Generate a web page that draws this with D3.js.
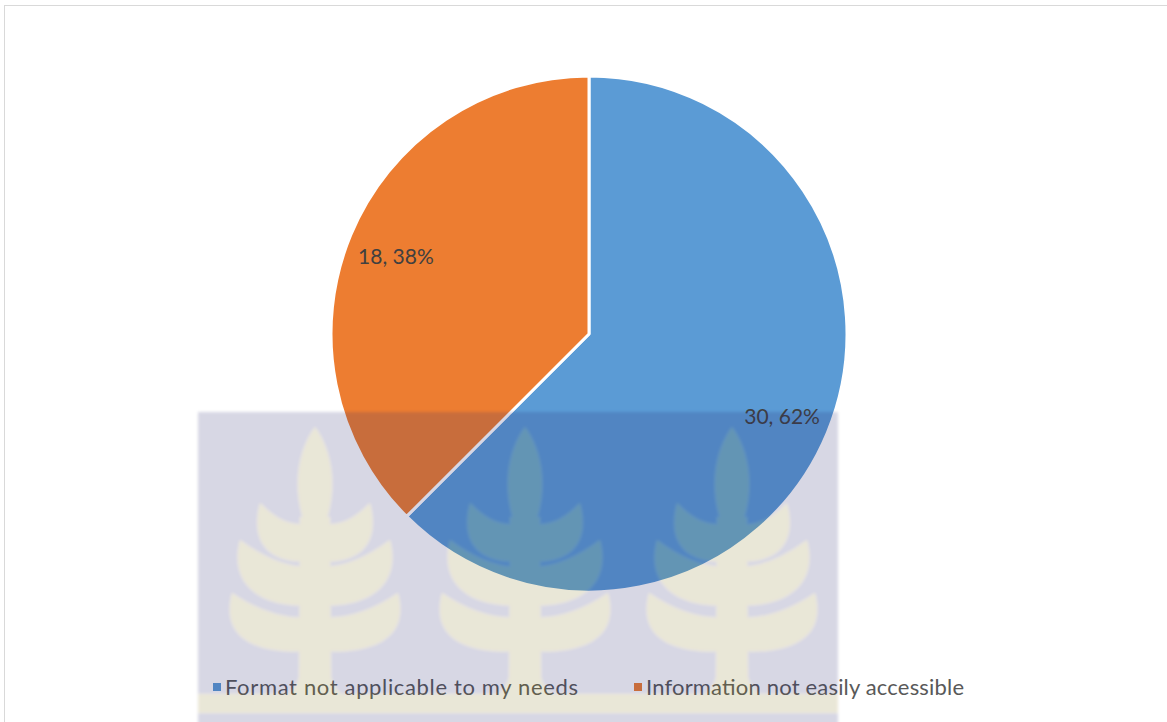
<!DOCTYPE html>
<html>
<head>
<meta charset="utf-8">
<script src="https://cdn.jsdelivr.net/npm/d3@7"></script>
<style>
  html, body { margin: 0; padding: 0; background: #fff; }
  svg { display: block; }
  text { font-family: Lato, "Noto Sans", sans-serif; }
</style>
</head>
<body>
<svg id="chart" width="1167" height="722"></svg>
<script>
// Responses: why the material was not used
const categories = ["Format not applicable to my needs", "Information not easily accessible"];
const counts = [30, 18];
const percentLabels = ["62%", "38%"];
const sliceColors = ["#5b9bd5", "#ed7d31"];

// Background emblem: three stylised trees over a tinted panel
const treeCenters = [315, 525, 732];

const W = 1167, H = 722;
const svg = d3.select("#chart");

// chart area border
svg.append("rect")
  .attr("x", 4.5).attr("y", 5.5)
  .attr("width", W + 10).attr("height", H + 10)
  .attr("fill", "#fff").attr("stroke", "#d9d9d9").attr("stroke-width", 1);

const cx = 589, cy = 334, R = 258;

const pie = d3.pie().sort(null).value(d => d);
const arcs = pie(counts);
const arc = d3.arc().innerRadius(0).outerRadius(R);
const labelArc = d3.arc().innerRadius(R * 0.81).outerRadius(R * 0.81);

const g = svg.append("g").attr("transform", `translate(${cx},${cy})`);

g.selectAll("path.slice")
  .data(arcs)
  .join("path")
  .attr("class", "slice")
  .attr("d", arc)
  .attr("fill", (d, i) => sliceColors[i])
  .attr("stroke", "#fff")
  .attr("stroke-width", 3)
  .attr("stroke-linejoin", "round");

g.selectAll("text.lbl")
  .data(arcs)
  .join("text")
  .attr("class", "lbl")
  .attr("transform", d => `translate(${labelArc.centroid(d)})`)
  .attr("text-anchor", "middle")
  .attr("dy", "0.48em")
  .attr("font-size", 21)
  .attr("fill", "#404040")
  .text((d, i) => `${counts[i]}, ${percentLabels[i]}`);

// legend
const legendX = [213, 634];
const legendTextWidth = [353, 318];
const legend = svg.append("g");
categories.forEach((c, i) => {
  legend.append("rect")
    .attr("x", legendX[i]).attr("y", 683)
    .attr("width", 8).attr("height", 8)
    .attr("fill", sliceColors[i]);
  legend.append("text")
    .attr("x", legendX[i] + 12).attr("y", 695)
    .attr("font-size", 22)
    .attr("textLength", legendTextWidth[i])
    .attr("lengthAdjust", "spacing")
    .attr("fill", "#595959")
    .text(c);
});

// emblem overlay
const defs = svg.append("defs");
defs.append("filter").attr("id", "soft")
  .attr("x", "-5%").attr("y", "-5%").attr("width", "110%").attr("height", "110%")
  .append("feGaussianBlur").attr("stdDeviation", 1.6);

const mark = svg.append("g").attr("opacity", 0.18);
const inner = mark.append("g").attr("filter", "url(#soft)");
const px0 = 198, px1 = 838, py0 = 412;
inner.append("rect")
  .attr("x", px0).attr("y", py0)
  .attr("width", px1 - px0).attr("height", H - py0 + 5)
  .attr("fill", "#28286e");

const olive = "#8c7d28";
inner.append("rect")
  .attr("x", px0).attr("y", 694)
  .attr("width", px1 - px0).attr("height", 19)
  .attr("fill", olive);

function wing(tx, ty, ya, yb, s) {
  return `M${s * 4},${ya} Q${s * tx * 0.5},${ty + 28} ${s * tx},${ty} ` +
         `C${s * (tx + 12)},${ty + 46} ${s * tx * 0.7},${yb + 4} ${s * 2},${yb} Z`;
}
const topY = 427;
treeCenters.forEach(tc => {
  const t = inner.append("g").attr("transform", `translate(${tc},${topY})`).attr("fill", olive);
  t.append("path").attr("d", "M0,0 C16,22 24,58 10,98 L-10,98 C-24,58 -16,22 0,0 Z");
  [[55, 76, 95, 134], [75, 113, 140, 178], [83, 166, 190, 224]].forEach(([tx, ty, ya, yb]) => {
    t.append("path").attr("d", wing(tx, ty, ya, yb, 1));
    t.append("path").attr("d", wing(tx, ty, ya, yb, -1));
  });
  t.append("path").attr("d", "M-15,90 L15,90 L16,250 Q19,262 28,268 L-28,268 Q-19,262 -16,250 Z");
});
</script>
</body>
</html>
